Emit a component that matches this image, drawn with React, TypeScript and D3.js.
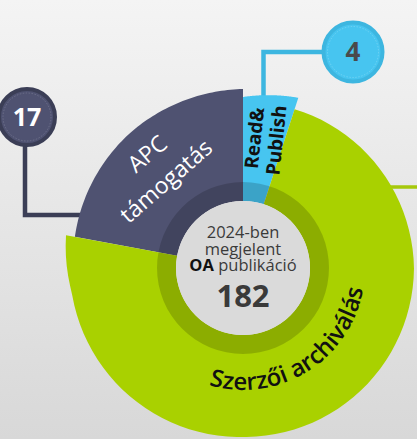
import React from "react";
import * as d3 from "d3";

const categories = ["APC támogatás", "Read&Publish", "Szerzői archiválás"];
const counts = [17, 4, 161];
const total = 182;
const centerLines = ["2024-ben", "megjelent"];
const centerBold = "OA";
const centerRest = " publikáció";

const colors = ["#4f5271", "#47c5f0", "#a9d100"];
const strokeColors = ["#3b3e56", "#3db6e0", "#a6c80b"];

// the segments are drawn by hand in the original, not proportional to the counts
const segmentAngles = [
  [-79.5, 0],
  [0, 18],
  [18, 280.5],
];
// outer radius stops (angle deg -> radius px), the shape swells a bit towards its ends
const outerStops = [
  { a: [-79.5, -40, 0], r: [171, 176, 179] },
  { a: [0, 18], r: [171, 179] },
  { a: [18, 90, 180, 262, 280.5], r: [167, 171, 169, 173, 180] },
];

const W = 417;
const H = 439;
const cx = 243;
const cy = 268;
const innerR = 67;
const ringR = 86;
const font = "'Open Sans', 'Noto Sans', sans-serif";

const rad = (deg: number) => (deg * Math.PI) / 180;

function segmentPath(i: number) {
  const [a0, a1] = segmentAngles[i];
  const stops = outerStops[i];
  const rScale = d3.scaleLinear().domain(stops.a).range(stops.r);
  const n = 80;
  const samples = d3.range(n + 1).map((k) => a0 + ((a1 - a0) * k) / n);
  const area = d3
    .areaRadial<number>()
    .angle((d) => rad(d))
    .innerRadius(innerR)
    .outerRadius((d) => rScale(d));
  return area(samples) || "";
}

// arc used as the path for the bottom label, running counter-clockwise
function labelArc(r: number, fromDeg: number, toDeg: number) {
  const [x0, y0] = polar(r, fromDeg);
  const [x1, y1] = polar(r, toDeg);
  return `M${x0},${y0} A${r},${r} 0 0 0 ${x1},${y1}`;
}

function polar(r: number, deg: number) {
  return [r * Math.sin(rad(deg)), -r * Math.cos(rad(deg))];
}

export default function App() {
  const ring = d3.arc()({
    innerRadius: innerR,
    outerRadius: ringR,
    startAngle: 0,
    endAngle: 2 * Math.PI,
  }) as string;

  const [apcX1, apcY1] = polar(150, -40);
  const [apcX2, apcY2] = polar(117, -41.5);

  return (
    <svg
      width={W}
      height={H}
      style={{ position: "absolute", left: 0, top: 0, display: "block" }}
    >
      <defs>
        <linearGradient id="bg" x1="0" y1="0" x2="0" y2="1">
          <stop offset="0" stopColor="#f4f4f4" />
          <stop offset="1" stopColor="#d8d8d8" />
        </linearGradient>
        <path id="szaPath" d={labelArc(122, 220, 76)} />
      </defs>
      <rect width={W} height={H} fill="url(#bg)" />

      {/* connector lines */}
      <path d="M25,146 V215 H95" fill="none" stroke={strokeColors[0]} strokeWidth={4.5} />
      <path d="M324,52 H263.5 V104" fill="none" stroke={strokeColors[1]} strokeWidth={4.5} />
      <path d="M390,187 H417" fill="none" stroke={strokeColors[2]} strokeWidth={3.5} />

      <g transform={`translate(${cx},${cy})`}>
        {categories.map((c, i) => (
          <path key={c} d={segmentPath(i)} fill={colors[i]} />
        ))}
        <path d={ring} fill="#000" fillOpacity={0.17} />
        <circle r={innerR} fill="#dadada" />

        {/* APC label */}
        <g fill="#fff" fontFamily={font} fontSize={23} textAnchor="middle" dominantBaseline="central">
          <text transform={`translate(${apcX1},${apcY1}) rotate(-40)`}>APC</text>
          <text transform={`translate(${apcX2},${apcY2}) rotate(-41)`}>támogatás</text>
        </g>

        {/* Read&Publish label */}
        <g
          transform={`translate(${265 - cx},${139 - cy}) rotate(-84)`}
          fill="#111"
          fontFamily={font}
          fontSize={19}
          fontWeight={700}
          textAnchor="middle"
        >
          <text y={-4}>Read&amp;</text>
          <text y={18}>Publish</text>
        </g>

        {/* Szerzői archiválás label */}
        <text fontFamily={font} fontSize={24} fontWeight={600} fill="#111">
          <textPath href="#szaPath" startOffset="50%" textAnchor="middle">
            {categories[2]}
          </textPath>
        </text>

        {/* center text */}
        <g fontFamily={font} fill="#3a3a3a" textAnchor="middle">
          <text y={238 - cy} fontSize={16.5}>{centerLines[0]}</text>
          <text y={254.5 - cy} fontSize={16.5}>{centerLines[1]}</text>
          <text y={271 - cy} fontSize={16.5}>
            <tspan fontWeight={700} fill="#111">{centerBold}</tspan>
            {centerRest}
          </text>
          <text y={307 - cy} fontSize={31} fontWeight={700}>{total}</text>
        </g>
      </g>

      {/* callout bubbles */}
      <g fontFamily={font} fontWeight={700} textAnchor="middle">
        <circle cx={27} cy={117} r={28} fill={colors[0]} stroke={strokeColors[0]} strokeWidth={4} />
        <circle cx={27} cy={117} r={24} fill="none" stroke="#fff" strokeOpacity={0.15} strokeDasharray="1.5 1.5" />
        <text x={27} y={126} fontSize={25} fill="#fff">{counts[0]}</text>

        <circle cx={353} cy={52} r={29.5} fill={colors[1]} stroke={strokeColors[1]} strokeWidth={4} />
        <circle cx={353} cy={52} r={25.5} fill="none" stroke="#fff" strokeOpacity={0.2} strokeDasharray="1.5 1.5" />
        <text x={353} y={61} fontSize={26} fill="#4a4a4a">{counts[1]}</text>
      </g>
    </svg>
  );
}
